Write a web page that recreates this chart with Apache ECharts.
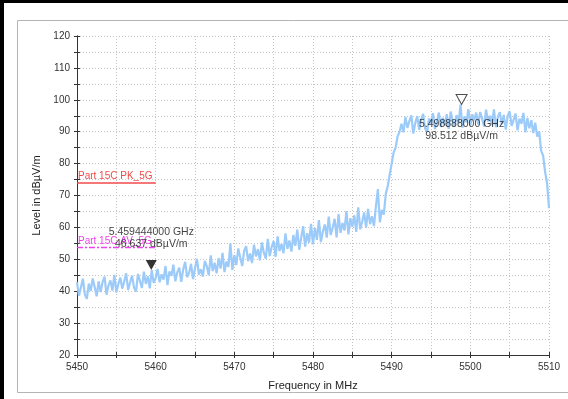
<!DOCTYPE html>
<html><head><meta charset="utf-8">
<script src="https://cdn.jsdelivr.net/npm/echarts@6/dist/echarts.min.js"></script>
<style>html,body{margin:0;padding:0;background:#fff}#c{width:568px;height:399px}</style>
</head><body><div id="c"></div>
<script>
// ---- data ----
const freqStart = 5450;          // MHz, first sample
const freqStep = 0.25;           // MHz between samples
const level = [
// 5450 - 5460
42.8,38.6,41.2,43.9,39.0,37.6,42.4,40.1,44.0,41.3,38.4,43.1,39.7,42.9,44.6,38.9,
41.8,43.4,40.2,45.1,39.6,42.2,44.3,40.8,43.0,45.6,40.4,42.7,44.9,41.1,39.9,45.4,
43.2,41.0,46.1,42.3,44.7,40.9,46.6,42.6,44.1,
// 5460.25 - 5470
47.0,42.8,45.3,43.6,47.9,41.9,46.2,44.8,48.3,43.1,45.9,47.4,42.9,46.8,49.2,44.4,
45.7,48.6,43.8,47.3,50.1,45.2,46.9,44.6,49.5,47.8,45.0,51.2,46.3,48.9,45.6,50.4,
47.1,52.0,46.0,49.3,47.6,55.0,46.7,51.3,
// 5470.25 - 5480
48.2,53.4,50.6,47.9,52.7,54.1,49.4,51.8,48.8,54.6,50.9,53.2,49.7,55.3,52.1,50.2,
56.4,51.0,53.9,55.7,50.8,57.2,52.6,54.8,51.9,58.1,53.3,55.9,52.4,57.6,54.2,59.3,
53.0,56.8,60.4,54.0,58.2,55.2,61.1,54.7,
// 5480.25 - 5488.5
59.8,56.1,62.3,55.4,58.7,60.9,56.8,63.4,57.6,59.9,62.7,56.9,64.2,58.3,61.4,59.0,
65.1,57.8,62.9,60.2,63.8,58.6,66.3,59.4,61.8,64.7,59.9,65.8,61.0,63.5,60.4,66.6,
72.0,61.6,
// 5488.75 - 5491.25
65.5,64.0,70.5,73.0,76.5,80.0,83.5,85.0,88.5,90.0,92.5,
// 5491.5 - 5508
89.8,94.6,91.2,93.3,95.1,89.4,92.7,94.9,90.6,93.8,95.6,91.0,89.9,94.2,92.4,95.8,
90.8,93.1,96.0,91.5,94.4,92.0,95.5,90.9,96.3,93.4,91.7,95.2,92.6,98.5,91.3,94.8,
92.9,97.1,91.9,95.4,93.6,96.0,92.2,96.2,94.0,91.6,96.9,93.2,95.0,92.1,97.0,91.4,
94.6,96.1,92.3,95.3,90.7,94.9,96.4,91.8,93.7,95.7,90.4,94.1,92.5,95.9,89.8,94.3,
91.1,93.6,89.6,
// 5508.25 - 5510
92.8,88.5,90.0,84.0,82.5,77.5,74.0,66.0
];
const limitNames = ['Part 15C PK_5G', 'Part 15C AV_5G'];
const limitValues = [74, 53.8];
const limitFrom = [5450, 5450];
const limitTo = [5460, 5460];
const limitColors = ['#f24a4a', '#f040f0'];
const markerFreqs = [5459.444, 5498.888];
const markerLevels = [46.637, 98.512];
const markerTexts = ['5.459444000 GHz\n46.637 dBµV/m', '5.498888000 GHz\n98.512 dBµV/m'];
const xMin = 5450, xMax = 5510, yMin = 20, yMax = 120;

// ---- chart ----
const trace = level.map((v, i) => [freqStart + i * freqStep, v]);
const FONT = 'Liberation Sans, Arial, sans-serif';
const chart = echarts.init(document.getElementById('c'), null, {renderer: 'canvas'});

const axisCommon = {
  type: 'value', interval: 5,
  axisLine: {show: true, lineStyle: {color: '#333', width: 1}},
  splitLine: {show: false}
};
const fmt10 = v => (Math.round(v) % 10 === 0 ? String(v) : '');

const limitSeries = limitNames.map((n, k) => ({
  type: 'line', name: n, xAxisIndex: 0, yAxisIndex: 0, z: 5,
  showSymbol: false, symbol: 'none', silent: true,
  data: [],
  markLine: {
    silent: true, symbol: 'none', animation: false,
    lineStyle: {color: limitColors[k], width: k === 0 ? 1.6 : 1.4, type: k === 0 ? 'solid' : [6, 2, 2, 2]},
    label: {show: true, formatter: n, position: 'insideStartTop', distance: [1, 1],
            color: limitColors[k], fontSize: 10, fontFamily: FONT},
    emphasis: {disabled: true},
    data: [[{coord: [limitFrom[k], limitValues[k]]}, {coord: [limitTo[k], limitValues[k]]}]]
  }
}));

chart.setOption({
  animation: false,
  backgroundColor: '#ffffff',
  grid: {left: 77, right: 19, top: 36, bottom: 44, containLabel: false},
  xAxis: [
    Object.assign({}, axisCommon, {
      min: xMin, max: xMax, position: 'bottom',
      name: 'Frequency in MHz', nameLocation: 'middle', nameGap: 25,
      nameTextStyle: {color: '#222', fontSize: 11, fontFamily: FONT},
      axisTick: {show: true, length: 3, inside: false, lineStyle: {color: '#333'}},
      axisLabel: {formatter: fmt10, color: '#333', fontSize: 10, fontFamily: FONT, margin: 7},
      splitLine: {show: true, lineStyle: {color: '#c4c4c4', type: [1, 2], width: 1}}
    }),
    Object.assign({}, axisCommon, {
      min: xMin, max: xMax, position: 'bottom',
      axisTick: {show: true, length: 3, inside: true, lineStyle: {color: '#333'}},
      axisLabel: {show: false}
    })
  ],
  yAxis: [
    Object.assign({}, axisCommon, {
      min: yMin, max: yMax, position: 'left',
      name: 'Level in dBµV/m', nameLocation: 'middle', nameGap: 29, nameRotate: 90,
      nameTextStyle: {color: '#222', fontSize: 11, fontFamily: FONT},
      axisTick: {show: true, length: 3, inside: false, lineStyle: {color: '#333'}},
      axisLabel: {formatter: fmt10, color: '#333', fontSize: 10, fontFamily: FONT, margin: 7},
      splitLine: {show: true, lineStyle: {color: '#c4c4c4', type: [1, 2], width: 1}}
    }),
    Object.assign({}, axisCommon, {
      min: yMin, max: yMax, position: 'left',
      axisTick: {show: true, length: 3, inside: true, lineStyle: {color: '#333'}},
      axisLabel: {show: false}
    })
  ],
  graphic: [
    {type: 'rect', z: -10, silent: true, shape: {x: 17.5, y: 20.5, width: 560, height: 372},
     style: {fill: '#fff', stroke: '#b4b4b4', lineWidth: 1}},
    {type: 'rect', z: 100, silent: true, shape: {x: 0, y: 0, width: 4, height: 399}, style: {fill: '#000'}},
    {type: 'rect', z: 100, silent: true, shape: {x: 0, y: 0, width: 568, height: 3}, style: {fill: '#000'}}
  ],
  series: [
    {
      type: 'line', name: 'trace', xAxisIndex: 0, yAxisIndex: 0, z: 3,
      showSymbol: false, symbol: 'none', silent: true,
      lineStyle: {color: '#9ccbfa', width: 2.2, join: 'miter', miterLimit: 3},
      data: trace
    },
    ...limitSeries,
    {
      type: 'scatter', name: 'markers', xAxisIndex: 0, yAxisIndex: 0, z: 8, silent: true,
      symbol: 'path://M0,0 L10,0 L5,9 Z', symbolSize: [11, 10], symbolOffset: [0, '-50%'],
      data: markerFreqs.map((f, i) => ({
        value: [f, markerLevels[i]],
        itemStyle: i === 0 ? {color: '#000'} : {color: '#fff', borderColor: '#222', borderWidth: 1},
        label: {show: true, formatter: markerTexts[i], position: i === 0 ? 'top' : 'bottom',
                distance: i === 0 ? 10 : 13, color: '#111', fontSize: 10.5, fontFamily: FONT,
                lineHeight: 12, align: 'center'}
      }))
    }
  ]
});
</script>
</body></html>
